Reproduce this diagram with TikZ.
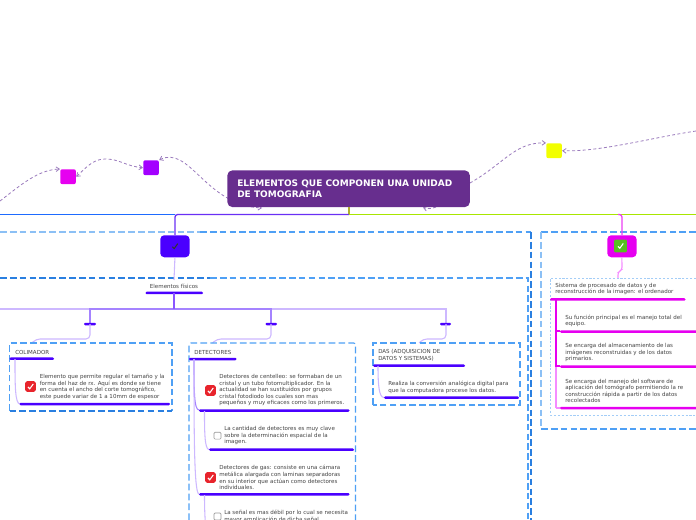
\documentclass[tikz,border=0pt]{standalone}
\usepackage{fontspec}
\setmainfont{DejaVu Sans}
\usetikzlibrary{arrows.meta,calc}
\definecolor{titlec}{HTML}{672E8E}
\definecolor{vio}{HTML}{4A00FF}
\definecolor{mag}{HTML}{E600F0}
\definecolor{lil}{HTML}{CDB8FF}
\definecolor{lilm}{HTML}{A583FF}
\definecolor{lild}{HTML}{8A55FF}
\definecolor{pinkl}{HTML}{F58CFF}
\definecolor{bl}{HTML}{4FA0F5}
\definecolor{bll}{HTML}{8CC0F5}
\definecolor{bld}{HTML}{2A7FE0}
\definecolor{txt}{HTML}{444444}
\definecolor{relc}{HTML}{9A7ABD}
\definecolor{pur}{HTML}{A300FF}
\definecolor{yel}{HTML}{F2FF00}
\definecolor{grn}{HTML}{A8E600}
\definecolor{olv}{HTML}{B0B030}
\definecolor{blu}{HTML}{1E6BFF}
\definecolor{tru}{HTML}{6A30F5}
\definecolor{rd}{HTML}{E8242C}
\definecolor{gr}{HTML}{58C020}
\tikzset{
 x=0.75pt,y=-0.75pt,
 lab/.style={anchor=west,inner sep=0pt,font=\fontsize{4.15}{4.9}\selectfont,text=txt,align=left},
 lilac/.style={line width=0.8pt,lil},
 pinkc/.style={line width=0.8pt,pinkl},
 boxd/.style={bl,line width=0.85pt,dash pattern=on 5pt off 2.4pt},
 boxk/.style={bld,line width=0.85pt,dash pattern=on 5pt off 2.4pt},
 rel/.style={relc,line width=0.6pt,dash pattern=on 2.2pt off 1.8pt,-{Straight Barb[length=2.5pt,width=3.5pt]}},
 sq/.style={rounded corners=1.5pt,inner sep=0pt,minimum width=11.7pt,minimum height=11.2pt},
 mainn/.style={rounded corners=3pt,inner sep=0pt,minimum width=22pt,minimum height=16.5pt},
 redicon/.style={fill=rd,rounded corners=1.3pt,inner sep=0pt,minimum size=8pt},
 chkbox/.style={draw=gray!80,fill=white,line width=0.45pt,rounded corners=0.8pt,inner sep=0pt,minimum size=5.2pt},
 greenicon/.style={fill=gr,rounded corners=0.8pt,inner sep=0pt,minimum size=9.5pt},
}
\newcommand{\tick}[2]{\draw[#2,line width=0.8pt] ($(#1)+(-2.6,0.4)$) -- ($(#1)+(-0.7,2.3)$) -- ($(#1)+(2.8,-2.6)$);}
\newcommand{\barline}[4]{\fill[#4,rounded corners=0.9pt] (#1,#3-1.25) rectangle (#2,#3+1.25);}
\begin{document}
\begin{tikzpicture}
\useasboundingbox (0,0) rectangle (696,520);
\clip (0,0) rectangle (696,520);
\fill[white] (0,0) rectangle (696,520);

\coordinate (offL) at (0,214.5);
\coordinate (offR) at (696,214.5);
\coordinate (relA) at (0,201);
\coordinate (relB) at (696,131);

% outer dashed frames
\draw[bll,line width=1pt,dash pattern=on 5pt off 2.4pt] (0,232) -- (200,232);
\draw[boxd] (200,232) -- (531,232);
\draw[boxk] (531,232) -- (531,520);
\draw[boxk] (0,278) -- (210,278);
\draw[boxd] (210,278) -- (528,278) -- (528,520);
\draw[boxd] (696,232) -- (541,232);
\draw[bll,line width=1.1pt,dash pattern=on 5pt off 2.4pt] (541,232) -- (541,429);
\draw[boxd] (541,429) -- (696,429);
\draw[bll!80,line width=0.7pt,dash pattern=on 1.6pt off 1.3pt] (696,278) -- (550.5,278) -- (550.5,415) -- (696,415);

% small floating squares
\node[sq,fill=mag,anchor=north west] (s1) at (60,169) {};
\node[sq,fill=pur,anchor=north west] (s2) at (143,160) {};
\node[sq,fill=yel,anchor=north west] (s3) at (546,143) {};
\coordinate (titleS) at (262,208);
\coordinate (titleE) at (470,183);
\coordinate (titleS2) at (436,207);
\coordinate (titleS3) at (423,207.5);

% relationship curves (under the title)
\draw[rel] (relA) .. controls (22,184) and (38,170) .. (s1.north west);
\draw[rel,{Straight Barb[length=2.5pt,width=3.5pt]}-{Straight Barb[length=2.5pt,width=3.5pt]}] (s1.east) .. controls (84,170) and (92,159) .. (105,159) .. controls (120,159) and (125,166) .. (s2.west);
\draw[rel,{Straight Barb[length=2.5pt,width=3.5pt]}-{Straight Barb[length=2.5pt,width=3.5pt]}] (s2.north east) .. controls (190,145) and (205,205) .. (titleS);
\draw[rel] (titleE) .. controls (505,163) and (515,142) .. (s3.north west);
\draw[rel] (relB) .. controls (650,138) and (600,152) .. (s3.east);
\draw[rel] (titleS2) .. controls (431,209) and (428,209) .. (titleS3);

% title
\node[fill=titlec,rounded corners=4pt,inner sep=0pt,minimum width=182pt,minimum height=27.7pt,anchor=north west] (title) at (227,170) {};
\node[anchor=west,inner sep=0pt,text=white,align=left,font=\fontsize{6.75}{8.3}\bfseries\selectfont] (titletxt) at (237,188.7) {ELEMENTOS QUE COMPONEN UNA UNIDAD\\DE TOMOGRAFIA};

% trunk
\node[mainn,fill=vio,anchor=north west] (n1) at (160,235) {};
\node[mainn,fill=mag,anchor=north west] (n2) at (607,235) {};
\draw[line width=1pt,blu] (offL) -- (175,214.5);
\draw[line width=1pt,tru,rounded corners=2pt] (349,214.5) -- (175,214.5) -- (n1.north);
\draw[line width=1pt,grn] (349,214.5) -- (offR);
\draw[line width=1pt,mag!75!white,rounded corners=2pt] (618,214.5) -- (622,214.5) -- (n2.north);
\draw[line width=1pt,olv] (349,207) -- (349,214.5);
\tick{n1.center}{black!80}
\node[greenicon] (gi) at (620.5,246) {};
\tick{gi.center}{white}

% physical group
\node[inner sep=0pt,font=\fontsize{4.15}{4.9}\selectfont,text=txt] (ef) at (174,286) {Elementos físicos};
\coordinate (efbar) at (174,293);
\draw[lilac] (n1.south) -- (174,280);
\barline{145.5}{203}{293}{vio}
\coordinate (t1) at (90,324);
\coordinate (t2) at (271,324);
\coordinate (t3) at (446,324);
\draw[line width=0.9pt,lil] (0,309) -- (446,309) -- (t3);
\draw[line width=0.9pt,lilm] (t1) -- (90,309) -- (271,309) -- (t2);
\draw[line width=1.4pt,lild] (efbar) -- (174,309);
\barline{84}{96}{324}{vio}
\barline{265.5}{277}{324}{vio}
\barline{440}{451}{324}{vio}

% branches to boxes
\draw[lilac,rounded corners=3pt] (t1) -- (90,339) -- (36,339) -- (32,343);
\draw[lilac,rounded corners=3pt] (t2) -- (271,339) -- (217,339) -- (212.5,343);
\draw[lilac,rounded corners=3pt] (t3) -- (446,339) -- (423,339) -- (419,343);

% box COLIMADOR
\draw[boxd] (9.5,411) -- (9.5,343) -- (172,343) -- (172,411);
\draw[boxk] (9.5,411) -- (172,411);
\node[lab] (colt) at (15,352) {COLIMADOR};
\barline{9.5}{54}{358.7}{vio}
\draw[lilac] (15,359) .. controls (15,385) and (15,404) .. (20,404);
\barline{19.5}{170}{404}{vio}
\node[redicon] (ci) at (30.5,386.5) {};
\tick{ci.center}{white}
\node[lab] (colb) at (39.5,387) {Elemento que permite regular el tamaño y la\\forma del haz de rx. Aquí es donde se tiene\\en cuenta el ancho del corte tomográfico,\\este puede variar de 1 a 10mm de espesor};

% box DETECTORES
\draw[boxd,rounded corners=1.5pt] (189,520) -- (189,343) -- (355.5,343) -- (355.5,520);
\node[lab] (dett) at (194,352) {DETECTORES};
\barline{189}{236.5}{359}{vio}
\draw[lilm,line width=0.8pt] (194,359) .. controls (194,390) and (194,410) .. (199,410);
\draw[lilac] (194,359) .. controls (194,430) and (194,494) .. (199,494);
\barline{199}{349.5}{410.5}{vio}
\node[redicon] (di1) at (210.5,390.5) {};
\tick{di1.center}{white}
\node[lab] (d1) at (219,390.3) {Detectores de centelleo: se formaban de un\\cristal y un tubo fotomultiplicador. En la\\actualidad se han sustituidos por grupos\\cristal fotodiodo los cuales son mas\\pequeños y muy eficaces como los primeros.};
\draw[lilac] (204.5,411) .. controls (204.5,430) and (204.5,449.5) .. (209,449.5);
\barline{209}{354}{449.7}{vio}
\node[chkbox] (db1) at (217.5,435.7) {};
\node[lab] (d2) at (224,435.7) {La cantidad de detectores es muy clave\\sobre la determinación espacial de la\\imagen.};
\barline{199}{349.5}{494.3}{vio}
\node[redicon] (di2) at (210.5,477.5) {};
\tick{di2.center}{white}
\node[lab] (d3) at (219,477.6) {Detectores de gas: consiste en una cámara\\metálica alargada con laminas separadoras\\en su interior que actúan como detectores\\individuales.};
\draw[lilac] (204.5,495) .. controls (204.5,510) and (205,520) .. (206,530);
\node[chkbox] (db2) at (217.5,516.5) {};
\node[lab] (d4) at (224,516.3) {La señal es mas débil por lo cual se necesita\\mayor amplicación de dicha señal.};

% box DAS
\draw[boxd] (373,405) -- (373,343) -- (520,343) -- (520,405) -- cycle;
\node[lab] (dast) at (378,355) {DAS (ADQUISICION DE\\DATOS Y SISTEMAS)};
\barline{373}{465}{365.7}{vio}
\draw[lilac] (378,366) .. controls (378,385) and (379,397.5) .. (384,397.5);
\barline{384}{519}{397.7}{vio}
\node[lab] (dasb) at (388,387.3) {Realiza la conversión analógica digital para\\que la computadora procese los datos.};

% right group
\draw[pinkc,rounded corners=2pt] (n2.south) -- (622,270) -- (618,272) -- (618,278);
\node[lab] (rt) at (555,289) {Sistema de procesado de datos y de\\reconstrucción de la imagen: el ordenador};
\barline{550}{685.5}{299.5}{mag}
\draw[line width=0.9pt,mag] (556,300) -- (556,366.5);
\draw[line width=0.9pt,pinkl] (556,366.5) -- (556,408);
\draw[line width=0.9pt,mag] (556,331) -- (560,331);
\draw[line width=0.9pt,mag] (556,366) -- (560,366);
\draw[line width=0.9pt,pinkl] (556,408) -- (560,408);
\barline{560}{697}{331.5}{mag}
\barline{560}{697}{366.5}{mag}
\barline{560}{697}{408}{mag}
\node[lab] (r1) at (565,321) {Su función principal es el manejo total del\\equipo.};
\node[lab] (r2) at (565,352.5) {Se encarga del almacenamiento de las\\imágenes reconstruidas y de los datos\\primarios.};
\node[lab] (r3) at (565,391) {Se encarga del manejo del software de\\aplicación del tomógrafo permitiendo la re\\construcción rápida a partir de los datos\\recolectados};
\end{tikzpicture}
\end{document}
